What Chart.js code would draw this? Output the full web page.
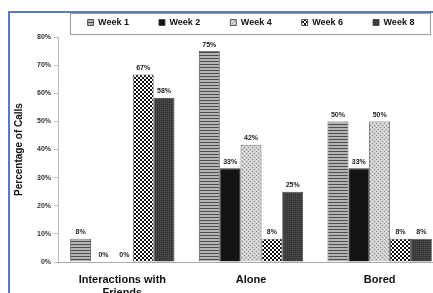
<!DOCTYPE html>
<html>
<head>
<meta charset="utf-8">
<script src="https://cdn.jsdelivr.net/npm/chart.js@4"></script>
<style>
  html, body { margin: 0; padding: 0; background: #fff; overflow: hidden; }
  #frame {
    position: absolute; left: 8px; top: 11px;
    width: 440px; height: 290px;
    border-left: 2px solid #5b7bb8; border-top: 2px solid #5b7bb8;
    overflow: hidden;
  }
  #wrap { position: absolute; left: 0; top: 0; width: 440px; height: 280px; }
</style>
</head>
<body>
<div id="frame"><div id="wrap"><canvas id="chartCanvas"></canvas></div></div>
<script>
const categories = [['Interactions with', 'Friends'], 'Alone', 'Bored'];
const seriesNames = ['Week 1', 'Week 2', 'Week 4', 'Week 6', 'Week 8'];
const week1 = [8.3, 75, 50];
const week2 = [0, 33.3, 33.3];
const week4 = [0, 41.7, 50];
const week6 = [66.7, 8.3, 8.3];
const week8 = [58.3, 25, 8.3];
const yTicks = [0, 10, 20, 30, 40, 50, 60, 70, 80];

function makePattern(kind) {
  const c = document.createElement('canvas');
  const g = c.getContext('2d');
  if (kind === 'stripes') {
    c.width = 4; c.height = 3;
    g.fillStyle = '#b4b4b4'; g.fillRect(0, 0, 4, 3);
    g.fillStyle = '#4e4e4e'; g.fillRect(0, 0, 4, 1);
  } else if (kind === 'stipple') {
    c.width = 4; c.height = 4;
    g.fillStyle = '#d0d0d0'; g.fillRect(0, 0, 4, 4);
    g.fillStyle = '#8c8c8c'; g.fillRect(0, 0, 1, 1); g.fillRect(2, 2, 1, 1);
    g.fillStyle = '#e4e4e4'; g.fillRect(2, 0, 1, 1); g.fillRect(0, 2, 1, 1);
  } else if (kind === 'checker') {
    c.width = 4; c.height = 4;
    g.fillStyle = '#fff'; g.fillRect(0, 0, 4, 4);
    g.fillStyle = '#111'; g.fillRect(0, 0, 2, 2); g.fillRect(2, 2, 2, 2);
  } else {
    c.width = 2; c.height = 2;
    g.fillStyle = '#383838'; g.fillRect(0, 0, 2, 2);
    g.fillStyle = '#555'; g.fillRect(0, 0, 1, 1);
  }
  return g.createPattern(c, 'repeat');
}

const fills = [makePattern('stripes'), '#141414', makePattern('stipple'), makePattern('checker'), makePattern('dark')];
const values = [week1, week2, week4, week6, week8];

const barLabels = {
  id: 'barLabels',
  afterDatasetsDraw(chart) {
    const ctx = chart.ctx;
    ctx.save();
    ctx.font = 'bold 7px "Liberation Sans", Arial, sans-serif';
    ctx.fillStyle = '#222';
    ctx.textAlign = 'center';
    ctx.textBaseline = 'bottom';
    chart.data.datasets.forEach((ds, i) => {
      chart.getDatasetMeta(i).data.forEach((bar, j) => {
        ctx.fillText(Math.round(ds.data[j]) + '%', bar.x + (ds.data[j] === 0 ? 2 : 0), bar.y - 3);
      });
    });
    ctx.restore();
  }
};

const legendBox = {
  id: 'legendBox',
  afterDraw(chart) {
    const l = chart.legend;
    const ctx = chart.ctx;
    ctx.save();
    ctx.strokeStyle = '#999';
    ctx.lineWidth = 1;
    ctx.strokeRect(l.left + 12.5, l.top + 0.5, l.width - 26, l.height - 3);
    ctx.restore();
  }
};

const data = {
  labels: categories,
  datasets: seriesNames.map((name, i) => ({
    label: name,
    data: values[i],
    backgroundColor: fills[i],
    borderColor: '#333',
    borderWidth: 0.8,
    categoryPercentage: 0.81,
    barPercentage: 1.0
  }))
};

const chartConfig = {
  type: 'bar',
  data,
  plugins: [barLabels, legendBox],
  options: {
    responsive: true,
    maintainAspectRatio: false,
    animation: false,
    layout: { padding: { left: 0, right: 6, top: 0, bottom: 0 } },
    plugins: {
      tooltip: { enabled: false },
      legend: {
        position: 'top',
        fullSize: false,
        labels: {
          boxWidth: 6,
          boxHeight: 6,
          padding: 5,
          color: '#111',
          font: { family: '"Liberation Sans", Arial, sans-serif', size: 9, weight: 'bold' },
          generateLabels(chart) {
            const items = Chart.defaults.plugins.legend.labels.generateLabels(chart);
            items.forEach((it, i) => {
              if (i < items.length - 1) it.text = it.text + '          ';
            });
            return items;
          }
        }
      }
    },
    scales: {
      x: {
        grid: { display: false, drawTicks: false },
        border: { color: '#aaa' },
        ticks: {
          color: '#111',
          padding: 11,
          maxRotation: 0,
          autoSkip: false,
          font: { family: '"Liberation Sans", Arial, sans-serif', size: 11, weight: 'bold' }
        },
        afterFit(scale) { scale.height = 31; }
      },
      y: {
        min: 0,
        max: 80,
        afterBuildTicks(scale) { scale.ticks = yTicks.map(v => ({ value: v })); },
        grid: { drawOnChartArea: false, tickLength: 4, color: '#bbb' },
        border: { color: '#bbb' },
        ticks: {
          color: '#333',
          padding: 3,
          font: { family: '"Liberation Sans", Arial, sans-serif', size: 7, weight: 'bold' },
          callback: v => v + '%'
        },
        title: {
          display: true,
          text: 'Percentage of Calls',
          color: '#111',
          padding: { top: 3, bottom: 4 },
          font: { family: '"Liberation Sans", Arial, sans-serif', size: 10, weight: 'bold' }
        },
        afterFit(scale) { scale.width = 48; }
      }
    }
  }
};

let currentChart = new Chart(document.getElementById('chartCanvas'), chartConfig);
</script>
</body>
</html>
